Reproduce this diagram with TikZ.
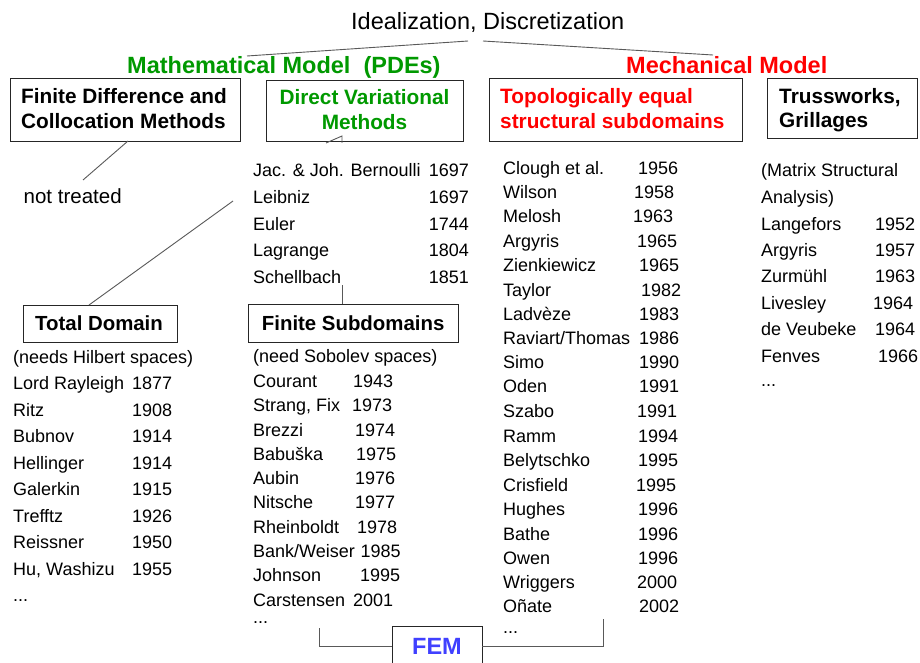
\documentclass[tikz,border=0pt]{standalone}
\usepackage{fontspec}
\setmainfont{Liberation Sans}
\definecolor{mgreen}{RGB}{0,153,0}
\definecolor{mred}{RGB}{255,0,0}
\definecolor{mblue}{RGB}{64,64,255}
\begin{document}
\begin{tikzpicture}[x=1pt,y=-1pt,
  txt/.style={inner sep=0pt, anchor=base west, font=\fontsize{18}{18}\selectfont},
  yre/.style={inner sep=0pt, anchor=base east, font=\fontsize{18}{18}\selectfont},
  hd/.style={inner sep=0pt, anchor=base west, font=\bfseries\fontsize{20.8}{20.8}\selectfont},
  hdc/.style={inner sep=0pt, anchor=base, font=\bfseries\fontsize{20.8}{20.8}\selectfont},
  hds/.style={inner sep=0pt, anchor=base west, font=\bfseries\fontsize{20.4}{20.4}\selectfont},
  big/.style={inner sep=0pt, anchor=base west, font=\bfseries\fontsize{23.5}{23.5}\selectfont},
  boxst/.style={draw=black!85, line width=1pt, inner sep=0pt, anchor=north west},
  conn/.style={draw=black!65, line width=0.9pt}]
\useasboundingbox (0,0) rectangle (920,663);
\clip (0,0) rectangle (920,663);
\fill[white] (0,0) rectangle (920,663);

% top
\node[inner sep=0pt, anchor=base west, font=\fontsize{23.5}{23.5}\selectfont] (title) at (351,30) {Idealization, Discretization};
\node[big, text=mgreen] (math) at (127,74) {Mathematical Model\ \ (PDEs)};
\node[big, text=mred] (mech) at (626,74) {Mechanical Model};
\coordinate (tL) at (468,41);
\coordinate (tR) at (483,41);
\coordinate (mL) at (247,56);
\coordinate (mR) at (713,55);
\draw[conn] (tL) -- (mL);
\draw[conn] (tR) -- (mR);

% boxes
\node[boxst, minimum width=230pt, minimum height=63pt] (fd) at (10,78) {};
\node[boxst, minimum width=197pt, minimum height=61pt] (dvm) at (266,80) {};
\node[boxst, minimum width=253pt, minimum height=63pt] (topo) at (489,78) {};
\node[boxst, minimum width=150pt, minimum height=60pt] (truss) at (767,78) {};
\node[boxst, minimum width=154pt, minimum height=37pt] (td) at (23,305) {};
\node[boxst, minimum width=210pt, minimum height=38pt] (fs) at (248,304) {};
\node[boxst, minimum width=90pt, minimum height=60pt] (fem) at (392,626) {};

\node[hd] (fd1) at (21,104) {Finite Difference and};
\node[hd] (fd2) at (21,128.5) {Collocation Methods};
\node[hdc, text=mgreen] (dvm1) at (364.5,105) {Direct Variational};
\node[hdc, text=mgreen] (dvm2) at (364.5,130) {Methods};
\node[hd, text=mred] (topo1) at (500,103.5) {Topologically equal};
\node[hd, text=mred] (topo2) at (500,128.3) {structural subdomains};
\node[hd] (truss1) at (779,103.5) {Trussworks,};
\node[hd] (truss2) at (779,128) {Grillages};
\node[hds] (tdt) at (35,330.5) {Total Domain};
\node[hds] (fst) at (261.7,330) {Finite Subdomains};
\node[big, text=mblue] (femt) at (412,654) {FEM};

\node[inner sep=0pt, anchor=base west, font=\fontsize{20.5}{20.5}\selectfont] (nt) at (23.5,203) {not treated};

% connectors
\coordinate (fdb) at (128,141);
\coordinate (ntt) at (83,180);
\draw[conn] (fdb) -- (ntt);
\coordinate (lk) at (233,201);
\coordinate (tdtop) at (89,305);
\draw[conn] (lk) -- (tdtop);
\coordinate (s1) at (326,143);
\coordinate (s2) at (342,136);
\coordinate (s3) at (342,143);
\draw[conn] (s1) -- (s2) -- (s3);
\coordinate (schb) at (342,285);
\coordinate (fstop) at (342,304);
\draw[conn] (schb) -- (fstop);
\coordinate (bl) at (319,628);
\coordinate (femL) at (392,646);
\coordinate (femR) at (482,646);
\coordinate (br) at (603,619);
\draw[conn] (bl) |- (femL);
\draw[conn] (femR) -| (br);

% Direct variational list
\node[txt] (v1) at (253,177) {Jac. \& Joh. Bernoulli};
\node[yre] (v1y) at (469,177) {1697};
\node[txt] (v2) at (253,203.5) {Leibniz};
\node[yre] (v2y) at (469,203.5) {1697};
\node[txt] (v3) at (253,230) {Euler};
\node[yre] (v3y) at (469,230) {1744};
\node[txt] (v4) at (253,256.5) {Lagrange};
\node[yre] (v4y) at (469,256.5) {1804};
\node[txt] (v5) at (253,283) {Schellbach};
\node[yre] (v5y) at (469,283) {1851};

% Total domain list
\node[txt] (t0) at (13,363) {(needs Hilbert spaces)};
\node[txt] (t1) at (13,389.5) {Lord Rayleigh};
\node[txt] (t1y) at (132,389.5) {1877};
\node[txt] (t2) at (13,416) {Ritz};
\node[txt] (t2y) at (132,416) {1908};
\node[txt] (t3) at (13,442.5) {Bubnov};
\node[txt] (t3y) at (132,442.5) {1914};
\node[txt] (t4) at (13,469) {Hellinger};
\node[txt] (t4y) at (132,469) {1914};
\node[txt] (t5) at (13,495.5) {Galerkin};
\node[txt] (t5y) at (132,495.5) {1915};
\node[txt] (t6) at (13,522) {Trefftz};
\node[txt] (t6y) at (132,522) {1926};
\node[txt] (t7) at (13,548.5) {Reissner};
\node[txt] (t7y) at (132,548.5) {1950};
\node[txt] (t8) at (13,575) {Hu, Washizu};
\node[txt] (t8y) at (132,575) {1955};
\node[txt] (t9) at (13,601) {...};

% Finite subdomains list
\node[txt] (f0) at (253,362.5) {(need Sobolev spaces)};
\node[txt] (f1) at (253,387.5) {Courant};
\node[txt] (f1y) at (353,387.5) {1943};
\node[txt] (f2) at (253,411.5) {Strang, Fix};
\node[txt] (f2y) at (352,411.5) {1973};
\node[txt] (f3) at (253,436) {Brezzi};
\node[txt] (f3y) at (355,436) {1974};
\node[txt] (f4) at (253,460.5) {Babuška};
\node[txt] (f4y) at (356,460.5) {1975};
\node[txt] (f5) at (253,484.5) {Aubin};
\node[txt] (f5y) at (355,484.5) {1976};
\node[txt] (f6) at (253,508.5) {Nitsche};
\node[txt] (f6y) at (355,508.5) {1977};
\node[txt] (f7) at (253,533.5) {Rheinboldt};
\node[txt] (f7y) at (357,533.5) {1978};
\node[txt] (f8) at (253,557.5) {Bank/Weiser};
\node[txt] (f8y) at (360.5,557.5) {1985};
\node[txt] (f9) at (253,581.5) {Johnson};
\node[txt] (f9y) at (360,581.5) {1995};
\node[txt] (f10) at (253,606.5) {Carstensen};
\node[txt] (f10y) at (353,606.5) {2001};
\node[txt] (f11) at (253,623.5) {...};

% Topological list
\node[txt] (p1) at (503,174.5) {Clough et al.};
\node[txt] (p1y) at (638,174.5) {1956};
\node[txt] (p2) at (503,198.5) {Wilson};
\node[txt] (p2y) at (634,198.5) {1958};
\node[txt] (p3) at (503,222.5) {Melosh};
\node[txt] (p3y) at (633,222.5) {1963};
\node[txt] (p4) at (503,247.5) {Argyris};
\node[txt] (p4y) at (637,247.5) {1965};
\node[txt] (p5) at (503,271.5) {Zienkiewicz};
\node[txt] (p5y) at (639,271.5) {1965};
\node[txt] (p6) at (503,296.5) {Taylor};
\node[txt] (p6y) at (641,296.5) {1982};
\node[txt] (p7) at (503,320.5) {Ladvèze};
\node[txt] (p7y) at (639,320.5) {1983};
\node[txt] (p8) at (503,344.5) {Raviart/Thomas};
\node[txt] (p8y) at (639,344.5) {1986};
\node[txt] (p9) at (503,368.5) {Simo};
\node[txt] (p9y) at (639,368.5) {1990};
\node[txt] (p10) at (503,392.5) {Oden};
\node[txt] (p10y) at (639,392.5) {1991};
\node[txt] (p11) at (503,417.5) {Szabo};
\node[txt] (p11y) at (637,417.5) {1991};
\node[txt] (p12) at (503,442.5) {Ramm};
\node[txt] (p12y) at (638,442.5) {1994};
\node[txt] (p13) at (503,466.5) {Belytschko};
\node[txt] (p13y) at (638,466.5) {1995};
\node[txt] (p14) at (503,491.5) {Crisfield};
\node[txt] (p14y) at (636,491.5) {1995};
\node[txt] (p15) at (503,515.5) {Hughes};
\node[txt] (p15y) at (638,515.5) {1996};
\node[txt] (p16) at (503,540.5) {Bathe};
\node[txt] (p16y) at (638,540.5) {1996};
\node[txt] (p17) at (503,564.5) {Owen};
\node[txt] (p17y) at (638,564.5) {1996};
\node[txt] (p18) at (503,588.5) {Wriggers};
\node[txt] (p18y) at (637,588.5) {2000};
\node[txt] (p19) at (503,612.5) {Oñate};
\node[txt] (p19y) at (639,612.5) {2002};
\node[txt] (p20) at (503,633.5) {...};

% Trussworks list
\node[txt] (m0) at (761,176.5) {(Matrix Structural};
\node[txt] (m0b) at (761,203.5) {Analysis)};
\node[txt] (m1) at (761,230.5) {Langefors};
\node[txt] (m1y) at (875,230.5) {1952};
\node[txt] (m2) at (761,256.5) {Argyris};
\node[txt] (m2y) at (875,256.5) {1957};
\node[txt] (m3) at (761,282.5) {Zurmühl};
\node[txt] (m3y) at (875,282.5) {1963};
\node[txt] (m4) at (761,309.5) {Livesley};
\node[txt] (m4y) at (873,309.5) {1964};
\node[txt] (m5) at (761,335.5) {de Veubeke};
\node[txt] (m5y) at (875,335.5) {1964};
\node[txt] (m6) at (761,362.5) {Fenves};
\node[txt] (m6y) at (878,362.5) {1966};
\node[txt] (m7) at (761,386) {...};
\end{tikzpicture}
\end{document}
